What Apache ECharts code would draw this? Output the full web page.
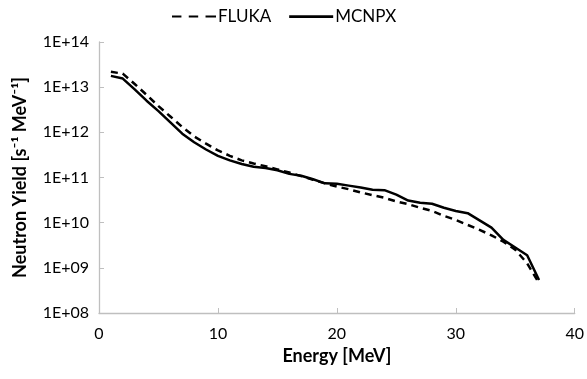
<!DOCTYPE html>
<html><head><meta charset="utf-8">
<script src="https://cdn.jsdelivr.net/npm/echarts@6/dist/echarts.min.js"></script>
<style>html,body{margin:0;padding:0;background:#fff}#c{width:587px;height:379px}</style>
</head><body><div id="c"></div>
<script>
var energy = [1,2,3,4,5,6,7,8,9,10,11,12,13,14,15,16,17,18,19,20,21,22,23,24,25,26,27,28,29,30,31,32,33,34,35,36,37];
var flukaLog = [13.34,13.30,13.07,12.83,12.58,12.35,12.12,11.91,11.75,11.60,11.48,11.38,11.31,11.25,11.18,11.11,11.03,10.95,10.87,10.80,10.74,10.67,10.61,10.55,10.47,10.41,10.33,10.26,10.15,10.06,9.95,9.84,9.72,9.58,9.40,9.10,8.66];
var mcnpxLog = [13.25,13.19,12.95,12.70,12.47,12.22,11.97,11.78,11.62,11.48,11.38,11.30,11.24,11.21,11.16,11.08,11.04,10.96,10.87,10.86,10.82,10.78,10.73,10.72,10.62,10.49,10.44,10.42,10.33,10.26,10.21,10.05,9.89,9.62,9.45,9.28,8.73];
var xTicks = [0,10,20,30,40];
var yTicks = ['1E+08','1E+09','1E+10','1E+11','1E+12','1E+13','1E+14'];

function pairs(logs){ return energy.map(function(e,i){ return [e, Math.pow(10, logs[i])]; }); }
var font = 'Lato';
var dashIcon = 'path://M0,0h9v2h-9z M16,0h9v2h-9z M32,0h10v2h-10z';
var solidIcon = 'path://M0,0h32v2h-32z';
var chart = echarts.init(document.getElementById('c'));
chart.setOption({
  animation:false,
  backgroundColor:'#fff',
  textStyle:{fontFamily:font},
  legend:{
    top:3, left:167, itemWidth:44, itemHeight:3, itemGap:18,
    textStyle:{fontFamily:font, fontSize:17, color:'#000', padding:[0,0,0,-3]},
    data:[{name:'FLUKA', icon:dashIcon, itemStyle:{color:'#000'}},{name:'MCNPX', icon:solidIcon, itemStyle:{color:'#000'}}]
  },
  grid:{left:99, right:11, top:42, bottom:66},
  xAxis:{
    type:'value', min:0, max:40, interval:10,
    name:'Energy [MeV]', nameLocation:'middle', nameGap:30,
    nameTextStyle:{fontFamily:font, fontSize:18, fontWeight:'bold', color:'#000'},
    axisLine:{lineStyle:{color:'#bfbfbf', width:1.3}},
    axisTick:{inside:true, length:5, lineStyle:{color:'#bfbfbf'}},
    axisLabel:{fontFamily:font, fontSize:16, color:'#000', margin:13},
    splitLine:{show:false}
  },
  yAxis:{
    type:'log', logBase:10, min:1e8, max:1e14,
    name:'Neutron Yield [s\u207B\u00B9 MeV\u207B\u00B9]', nameLocation:'middle', nameGap:70,
    nameTextStyle:{fontFamily:font, fontSize:18, fontWeight:'bold', color:'#000'},
    axisLine:{show:true, lineStyle:{color:'#bfbfbf', width:1.3}},
    axisTick:{show:true, inside:true, length:5, lineStyle:{color:'#bfbfbf'}},
    axisLabel:{fontFamily:font, fontSize:16, color:'#000', margin:10,
      formatter:function(v){ var k=Math.round(Math.log10(v)); return yTicks[k-8]; }},
    splitLine:{show:false}
  },
  series:[
    {name:'FLUKA', type:'line', data:pairs(flukaLog), showSymbol:false, symbol:'none',
     lineStyle:{color:'#000', width:2.5, type:[7,5]}, itemStyle:{color:'#000'}},
    {name:'MCNPX', type:'line', data:pairs(mcnpxLog), showSymbol:false, symbol:'none',
     lineStyle:{color:'#000', width:2.5}, itemStyle:{color:'#000'}}
  ]
});
</script></body></html>
